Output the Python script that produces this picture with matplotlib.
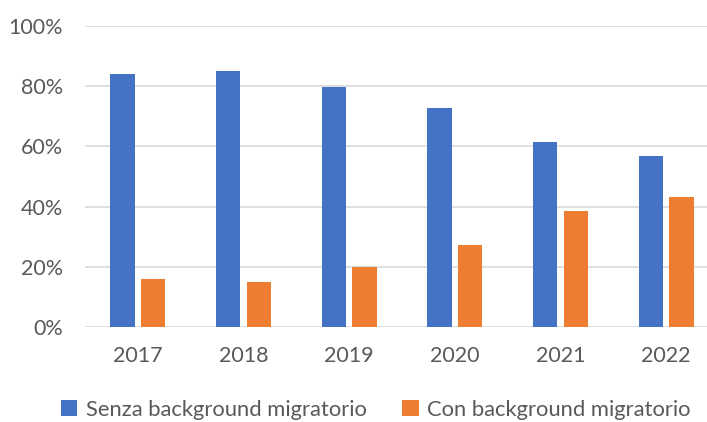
import matplotlib
matplotlib.use("Agg")
import matplotlib.pyplot as plt
import numpy as np

years = ["2017", "2018", "2019", "2020", "2021", "2022"]
senza = [84.0, 84.9, 79.8, 72.6, 61.3, 56.8]
con = [15.8, 14.9, 20.0, 27.2, 38.5, 43.1]
labels = ["Senza background migratorio", "Con background migratorio"]

plt.rcParams["font.family"] = ["Lato", "DejaVu Sans"]

fig = plt.figure(figsize=(7.07, 4.22), dpi=100)
ax = fig.add_axes([85 / 707, 95 / 422, 634 / 707, 301 / 422])

x = np.arange(len(years))
w = 0.23
ax.bar(x - 0.145, senza, w, color="#4472c4", label=labels[0], zorder=3)
ax.bar(x + 0.145, con, w, color="#ed7d31", label=labels[1], zorder=3)

ax.set_xlim(-0.5, len(years) - 0.5)
ax.set_ylim(0, 100)
ax.set_yticks(range(0, 101, 20))
ax.set_yticklabels([f"{v}%" for v in range(0, 101, 20)])
ax.set_xticks(x)
ax.set_xticklabels(years)
ax.grid(axis="y", color="#d9d9d9", linewidth=1.2, zorder=0)
for s in ax.spines.values():
    s.set_visible(False)
ax.tick_params(length=0, labelsize=15.5, colors="#595959")
ax.tick_params(axis="x", pad=14)
ax.tick_params(axis="y", pad=16)

fig.legend(loc="center", bbox_to_anchor=(376 / 707, 1 - 410 / 422), ncol=2,
           frameon=False, fontsize=15.8, handlelength=0.75, handleheight=0.75,
           handletextpad=0.4, columnspacing=1.6, labelcolor="#595959")

fig.savefig("out.png", dpi=100)
